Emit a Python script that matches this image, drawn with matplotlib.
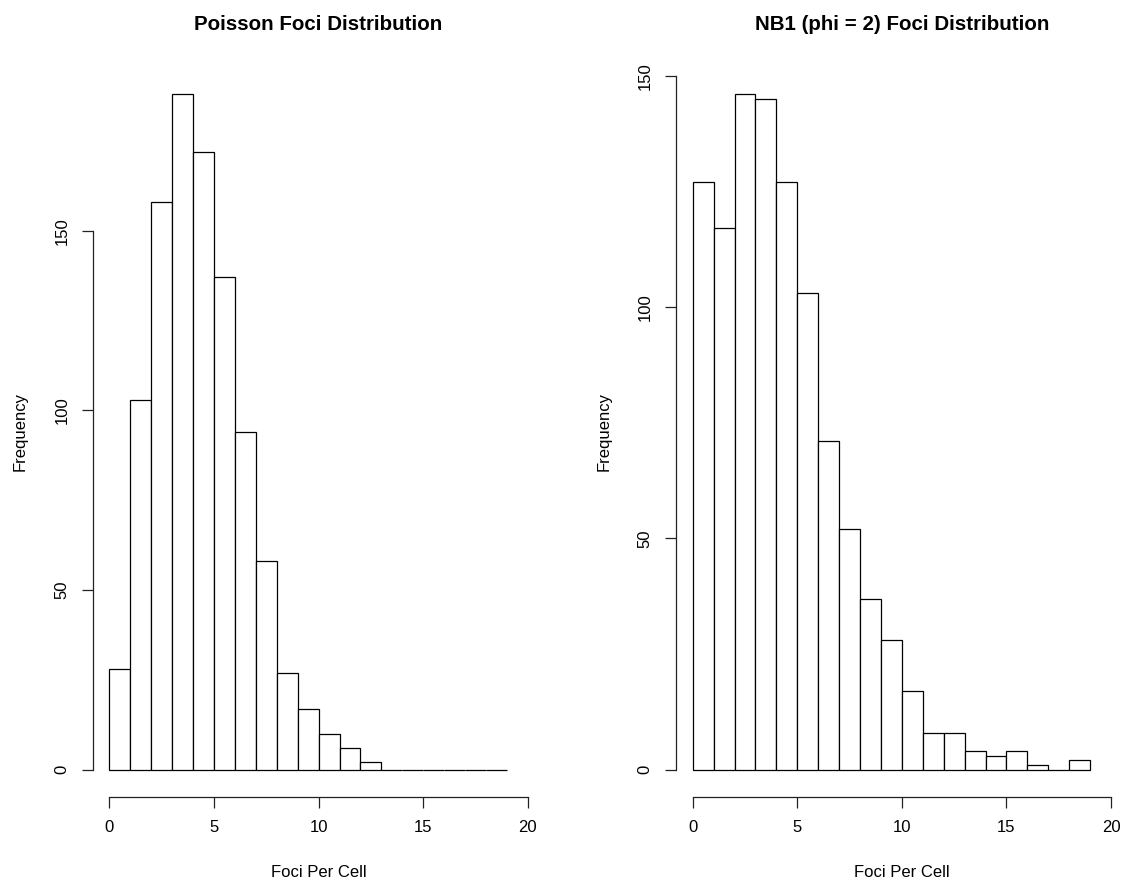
import matplotlib.pyplot as plt
import numpy as np

plt.rcParams['font.family'] = ['Liberation Sans', 'DejaVu Sans']

# foci per cell histograms, unit bins 0..19
bin_edges = list(range(0, 20))
poisson_counts = [28, 103, 158, 188, 172, 137, 94, 58, 27, 17, 10, 6, 2, 0, 0, 0, 0, 0, 0]
nb1_counts = [127, 117, 146, 145, 127, 103, 71, 52, 37, 28, 17, 8, 8, 4, 3, 4, 1, 0, 2]
titles = ["Poisson Foci Distribution", "NB1 (phi = 2) Foci Distribution"]
x_ticks = [0, 5, 10, 15, 20]
y_ticks = [0, 50, 100, 150]

W, H = 1128, 886
fig = plt.figure(figsize=(W / 100, H / 100), dpi=100)


def rHist(ax, counts, title):
    # base-R style histogram: open bars, detached axes, 4% padding
    lefts = np.array(bin_edges[:-1] + [bin_edges[-1]])[:len(counts)]
    ax.bar(lefts, counts, width=1, align='edge', facecolor='white',
           edgecolor='black', linewidth=0.9)
    xmin, xmax = x_ticks[0], x_ticks[-1]
    pad = 0.04 * (xmax - xmin)
    ax.set_xlim(xmin - pad, xmax + pad)
    ymax = max(counts)
    ax.set_ylim(-0.04 * ymax, 1.04 * ymax)

    ax.set_xticks(x_ticks)
    ax.set_yticks(y_ticks)
    for side in ['top', 'right']:
        ax.spines[side].set_visible(False)
    ax.spines['bottom'].set_bounds(x_ticks[0], x_ticks[-1])
    ax.spines['left'].set_bounds(y_ticks[0], y_ticks[-1])
    for side in ['bottom', 'left']:
        ax.spines[side].set_linewidth(0.9)
        ax.spines[side].set_color('#222222')
    ax.tick_params(axis='x', length=8, width=0.9, pad=9, labelsize=12, color='#222222')
    ax.tick_params(axis='y', length=7.7, width=0.9, pad=9, labelsize=12, color='#222222')
    for lab in ax.get_yticklabels():
        lab.set_rotation(90)
        lab.set_va('center')

    ax.set_title(title, fontsize=14.8, fontweight='bold', pad=27)
    ax.set_xlabel("Foci Per Cell", fontsize=12, labelpad=21.5)
    ax.set_ylabel("Frequency", fontsize=12, labelpad=19)


axL = fig.add_axes([92.7 / W, (H - 796.7) / H, 451.8 / W, 729.5 / H])
axR = fig.add_axes([676.0 / W, (H - 796.7) / H, 451.8 / W, 729.5 / H])
rHist(axL, poisson_counts, titles[0])
rHist(axR, nb1_counts, titles[1])

fig.savefig("out.png", dpi=100)
